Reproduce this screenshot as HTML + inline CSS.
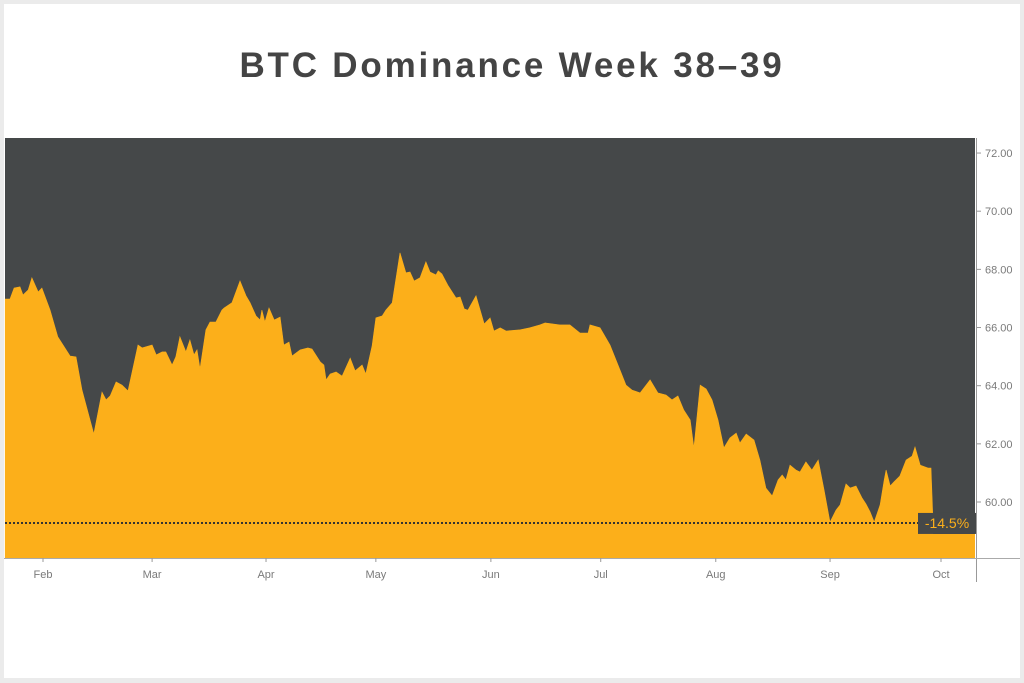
<!DOCTYPE html>
<html><head><meta charset="utf-8"><style>
html,body{margin:0;padding:0;background:#ebebeb;}
#frame{position:absolute;left:4px;top:4px;width:1016px;height:674px;background:#fff;}
#title{position:absolute;left:0;top:46px;width:1024px;text-align:center;font:bold 35px "Liberation Sans",sans-serif;color:#444;letter-spacing:2.8px;}
svg{position:absolute;left:0;top:0;}
</style></head><body>
<div id="frame"></div>
<div id="title">BTC Dominance Week 38–39</div>
<svg id="chart" width="1024" height="683"></svg>
<script>
// day offsets from Feb 1
const days=[-10.2,-8.9,-7.8,-6.2,-5.4,-4.0,-3.0,-1.3,-0.3,1.9,4.0,7.3,8.9,10.5,13.7,15.9,17.0,18.1,19.7,21.3,22.9,25.6,26.7,29.4,30.5,32.1,33.1,34.8,35.8,36.9,38.5,39.6,40.7,41.5,42.3,43.9,45.0,46.6,48.2,48.8,50.9,53.1,54.7,55.8,57.4,58.5,59.0,59.8,60.9,62.3,63.9,64.9,66.3,67.1,69.3,71.4,72.5,74.7,75.7,76.3,77.4,79.0,80.6,82.8,84.1,86.0,87.0,88.7,89.7,91.4,92.4,94.1,96.2,97.8,98.9,100.0,101.6,103.2,104.3,105.9,106.5,107.5,109.1,111.3,112.4,113.5,114.5,116.7,118.9,120.5,121.5,123.2,124.8,128.6,131.2,133.9,135.3,139.3,142.0,144.7,146.9,147.4,150.1,152.8,155.5,157.1,158.7,160.9,163.6,165.7,167.9,169.5,171.1,172.7,174.4,175.4,177.1,178.7,180.3,181.9,183.5,185.1,186.8,187.8,189.5,191.6,193.2,194.8,196.5,198.1,199.2,200.2,201.3,202.9,204.0,205.6,207.2,208.9,210.5,212.1,213.7,214.8,216.4,217.5,219.1,220.7,221.8,222.9,224.0,225.6,226.7,227.2,228.3,229.3,230.9,232.6,234.2,235.0,236.4,238.5,239.3,239.8];
const values=[66.98,66.98,67.36,67.40,67.12,67.29,67.71,67.22,67.36,66.60,65.68,65.02,64.99,63.85,62.34,63.78,63.51,63.65,64.13,64.02,63.82,65.40,65.30,65.40,65.06,65.16,65.16,64.71,64.99,65.68,65.16,65.57,65.06,65.23,64.58,65.92,66.19,66.19,66.60,66.67,66.85,67.60,67.09,66.85,66.40,66.26,66.60,66.19,66.67,66.26,66.36,65.40,65.50,65.02,65.23,65.30,65.26,64.82,64.71,64.20,64.40,64.47,64.33,64.95,64.51,64.71,64.40,65.37,66.33,66.40,66.60,66.85,68.57,67.88,67.91,67.60,67.71,68.26,67.91,67.81,67.95,67.84,67.46,67.02,67.05,66.64,66.60,67.09,66.12,66.33,65.88,65.99,65.88,65.92,65.99,66.09,66.16,66.09,66.09,65.81,65.81,66.09,65.99,65.40,64.54,64.02,63.85,63.75,64.20,63.75,63.68,63.51,63.65,63.16,62.82,61.86,64.02,63.89,63.51,62.82,61.86,62.20,62.37,62.03,62.34,62.13,61.44,60.48,60.21,60.76,60.93,60.76,61.27,61.10,61.03,61.38,61.10,61.44,60.41,59.31,59.72,59.90,60.62,60.48,60.55,60.14,59.93,59.66,59.31,59.90,60.76,61.10,60.55,60.69,60.89,61.44,61.58,61.89,61.27,61.17,61.17,59.5];
const yTicks=[60,62,64,66,68,70,72];
const monthLabels=["Feb","Mar","Apr","May","Jun","Jul","Aug","Sep","Oct"];
const monthDays=[0,29.4,60.1,89.7,120.7,150.3,181.3,212.1,242];
const markerValue=59.28;
const markerLabel="-14.5%";

const NS="http://www.w3.org/2000/svg";
const svg=document.getElementById('chart');
const L=5,R=975,T=138,B=558;
const xs=d=>43+d*(898/242);
const ys=v=>502-(v-60)*29.08;
function mk(tag,attrs,parent){const e=document.createElementNS(NS,tag);for(const k in attrs)e.setAttribute(k,attrs[k]);(parent||svg).appendChild(e);return e;}

const bg=mk('rect',{x:L,y:T,width:R-L,height:B-T,fill:'#454849'});



let d='M'+xs(days[0]).toFixed(1)+','+B;
for(let i=0;i<days.length;i++)d+='L'+xs(days[i]).toFixed(1)+','+ys(values[i]).toFixed(1);
d+='L'+xs(days[days.length-1]).toFixed(1)+','+B+'Z';
const area=mk('path',{d:d,fill:'#fcaf1a',stroke:'#fcaf1a','stroke-width':0.6});



const tail=mk('rect',{x:xs(days[days.length-1]),y:ys(markerValue)+11,width:R-xs(days[days.length-1]),height:B-ys(markerValue)-11,fill:'#fcaf1a'});



const my=ys(markerValue);
const ml=mk('line',{x1:L,x2:918,y1:my,y2:my,stroke:'#333','stroke-width':2,'stroke-dasharray':'2,2'});


const mb=mk('rect',{x:918,y:my-10,width:59,height:21,fill:'#454849'});


const mt=mk('text',{x:947,y:my+5,'text-anchor':'middle',fill:'#fcaf1a','font-family':'Liberation Sans, sans-serif','font-size':14});
mt.textContent=markerLabel;



const ax=mk('line',{x1:976.5,x2:976.5,y1:T,y2:582,stroke:'#999','stroke-width':1});


const bx=mk('line',{x1:4,x2:1020,y1:B+0.5,y2:B+0.5,stroke:'#aaa','stroke-width':1});



yTicks.forEach(v=>{
  const y=ys(v);
  const t=mk('line',{x1:977,x2:981,y1:y,y2:y,stroke:'#999'});
  
  
  const tx=mk('text',{x:985,y:y+4,fill:'#7a7a7a','font-family':'Liberation Sans, sans-serif','font-size':11});
  tx.textContent=v.toFixed(2);
  
  
});
monthLabels.forEach((m,i)=>{
  const x=xs(monthDays[i]);
  const t=mk('line',{x1:x,x2:x,y1:B,y2:B+4,stroke:'#999'});
  
  
  const tx=mk('text',{x:x,y:578,'text-anchor':'middle',fill:'#7a7a7a','font-family':'Liberation Sans, sans-serif','font-size':11});
  tx.textContent=m;
  
  
});
</script>
</body></html>
